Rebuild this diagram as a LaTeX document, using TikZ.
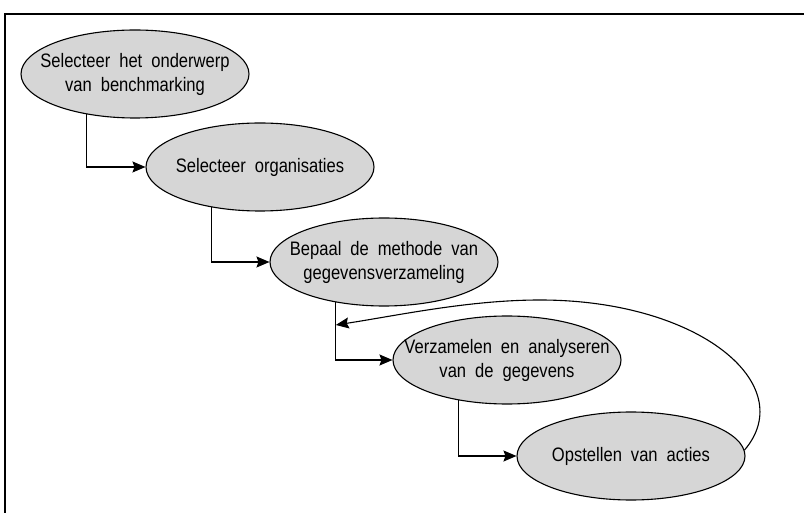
\documentclass[tikz,border=0pt]{standalone}
\usepackage{fontspec}
\setmainfont[FakeStretch=0.85]{Liberation Sans}
\usetikzlibrary{shapes.geometric,arrows.meta}
\newcommand{\stepfont}{\fontsize{19.5}{24}\selectfont\spaceskip=9pt\relax}
\begin{document}
\begin{tikzpicture}[x=1pt,y=-1pt,
  stepnode/.style={ellipse,draw=black,line width=1.1pt,fill=black!16,
    minimum width=228pt,minimum height=88pt,inner sep=0pt},
  steptext/.style={inner sep=0pt,align=center,font=\stepfont},
  flow/.style={line width=1.1pt,-{Stealth[length=13pt,width=11pt,inset=2pt]}}]
\useasboundingbox (0,0) rectangle (804,513);
% open frame: top and left edges only
\draw[line width=1.4pt] (804,14) -- (5,14) -- (5,513);
% process steps
\node[stepnode] (e1) at (135,74) {};
\node[stepnode] (e2) at (260,167) {};
\node[stepnode] (e3) at (384,262) {};
\node[stepnode] (e4) at (507,360) {};
\node[stepnode] (e5) at (631,456) {};
\node[steptext] (t1) at (e1) {Selecteer het onderwerp\\van benchmarking};
\node[steptext] (t2) at (e2) {Selecteer organisaties};
\node[steptext] (t3) at (e3) {Bepaal de methode van\\gegevensverzameling};
\node[steptext] (t4) at (e4) {Verzamelen en analyseren\\van de gegevens};
\node[steptext] (t5) at (e5) {Opstellen van acties};
% step-to-step connectors
\draw[flow] (e1.220) |- (e2.west);
\draw[flow] (e2.220) |- (e3.west);
\draw[flow] (e3.220) |- (e4.west);
\draw[flow] (e4.220) |- (e5.west);
% feedback loop from the last step back to data collection
\coordinate (fy) at (0,325);
\coordinate (fb) at (e3.220 |- fy);
\draw[flow] (e5.3) .. controls (800,385) and (700,300) .. (540,300)
  .. controls (470,300) and (400,315) .. (fb);
\end{tikzpicture}
\end{document}
